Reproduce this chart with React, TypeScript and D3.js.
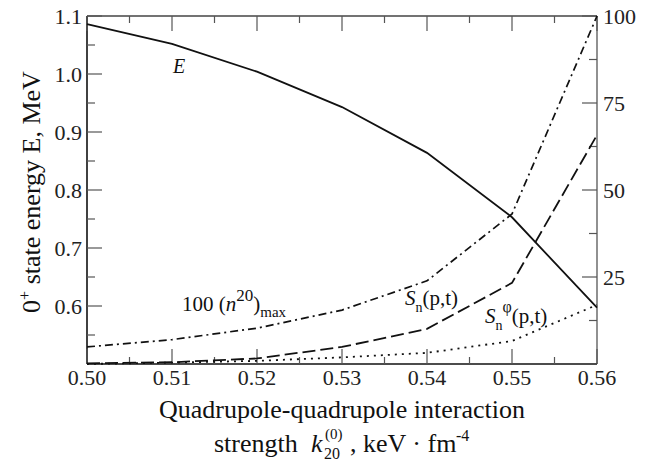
import React from "react";
import * as d3 from "d3";

// coupling strength k20 (keV fm^-4)
const strengths = [0.5, 0.51, 0.52, 0.53, 0.54, 0.55, 0.56];
// 0+ state energy, MeV (left axis)
const energy = [1.086, 1.052, 1.004, 0.943, 0.864, 0.753, 0.597];
// right axis series
const n20max = [4.9, 7.0, 10.3, 15.5, 23.9, 43.1, 100];
const snPt = [0.2, 0.5, 1.6, 4.9, 10.1, 23.3, 65.8];
const snPhiPt = [0.0, 0.4, 0.9, 1.9, 3.2, 6.6, 17];

const xTicks = [0.5, 0.51, 0.52, 0.53, 0.54, 0.55, 0.56];
const leftTicks = [0.6, 0.7, 0.8, 0.9, 1.0, 1.1];
const rightTicks = [25, 50, 75, 100];

const W = 651;
const H = 464;
const serif = "Liberation Serif, Tinos, DejaVu Serif, serif";

export default function App() {
  const x = d3.scaleLinear().domain([0.5, 0.56]).range([87, 597]);
  const yL = d3.scaleLinear().domain([0.5, 1.1]).range([364, 16]);
  const yR = d3.scaleLinear().domain([0, 100]).range([364, 16]);

  const lineL = d3.line<number>().x((_, i) => x(strengths[i])).y(d => yL(d));
  const lineR = d3.line<number>().x((_, i) => x(strengths[i])).y(d => yR(d));

  const xMinor = d3.range(0.505, 0.56, 0.01);
  const lMinor = d3.range(0.55, 1.1, 0.1);
  const rMinor = d3.range(12.5, 100, 25);

  const [x0, x1] = x.range();
  const [yB, yT] = yL.range();
  const tickCol = "#555";
  const tf = { fontFamily: serif };

  return (
    <svg width={W} height={H} style={{ position: "absolute", left: 0, top: 0, background: "#fff" }}>
      {/* frame */}
      <line x1={x0} x2={x1} y1={yT} y2={yT} stroke="#444" strokeWidth={1.3} />
      <line x1={x1} x2={x1} y1={yT} y2={yB} stroke="#555" strokeWidth={1.3} />
      <line x1={x0} x2={x1} y1={yB} y2={yB} stroke="#111" strokeWidth={1.6} />
      <line x1={x0} x2={x0} y1={yT} y2={yB} stroke="#111" strokeWidth={1.6} />

      {/* x ticks bottom and top */}
      {xTicks.map(t => (
        <g key={"xt" + t}>
          <line x1={x(t)} x2={x(t)} y1={yB} y2={yB - 15} stroke={tickCol} strokeWidth={1.2} />
          <line x1={x(t)} x2={x(t)} y1={yT} y2={yT + 15} stroke={tickCol} strokeWidth={1.2} />
          <text style={tf} x={x(t)} y={385} fontSize={22} textAnchor="middle" fill="#222">{t.toFixed(2)}</text>
        </g>
      ))}
      {xMinor.map(t => (
        <g key={"xm" + t}>
          <line x1={x(t)} x2={x(t)} y1={yB} y2={yB - 7} stroke={tickCol} strokeWidth={1.2} />
          <line x1={x(t)} x2={x(t)} y1={yT} y2={yT + 7} stroke={tickCol} strokeWidth={1.2} />
        </g>
      ))}

      {/* left axis */}
      {leftTicks.map(t => (
        <g key={"lt" + t}>
          <line x1={x0} x2={x0 + 15} y1={yL(t)} y2={yL(t)} stroke={tickCol} strokeWidth={1.2} />
          <text style={tf} x={82} y={yL(t)} dy="0.35em" fontSize={22} textAnchor="end" fill="#222">{t.toFixed(1)}</text>
        </g>
      ))}
      {lMinor.map(t => (
        <line key={"lm" + t} x1={x0} x2={x0 + 8} y1={yL(t)} y2={yL(t)} stroke={tickCol} strokeWidth={1.2} />
      ))}

      {/* right axis */}
      {rightTicks.map(t => (
        <g key={"rt" + t}>
          <line x1={x1} x2={x1 - 15} y1={yR(t)} y2={yR(t)} stroke={tickCol} strokeWidth={1.2} />
          <text style={tf} x={603} y={yR(t)} dy="0.35em" fontSize={22} textAnchor="start" fill="#222">{t}</text>
        </g>
      ))}
      {rMinor.map(t => (
        <line key={"rm" + t} x1={x1} x2={x1 - 8} y1={yR(t)} y2={yR(t)} stroke={tickCol} strokeWidth={1.2} />
      ))}

      {/* curves */}
      <path d={lineR(snPhiPt) || ""} fill="none" stroke="#111" strokeWidth={1.8} strokeDasharray="2,5" />
      <path d={lineR(snPt) || ""} fill="none" stroke="#111" strokeWidth={1.8} strokeDasharray="13,5" />
      <path d={lineR(n20max) || ""} fill="none" stroke="#111" strokeWidth={1.7} strokeDasharray="8,4,2,4" />
      <path d={lineL(energy) || ""} fill="none" stroke="#111" strokeWidth={1.8} />

      {/* curve labels */}
      <text style={tf} x={173} y={73} fontSize={20} fontStyle="italic" fill="#111">E</text>
      <text style={tf} x={182} y={311} fontSize={21} fill="#111">
        100 (<tspan fontStyle="italic">n</tspan>
        <tspan fontSize={17} dy={-10}>20</tspan>
        <tspan dy={10}>)</tspan>
        <tspan fontSize={15} dy={6}>max</tspan>
      </text>
      <text style={tf} x={405} y={305} fontSize={21} fill="#111">
        <tspan fontStyle="italic">S</tspan>
        <tspan fontSize={14} dy={7}>n</tspan>
        <tspan dy={-7}>(p,t)</tspan>
      </text>
      <text style={tf} x={485} y={323} fontSize={21} fill="#111">
        <tspan fontStyle="italic">S</tspan>
        <tspan fontSize={14} dy={7}>n</tspan>
        <tspan fontSize={16} dy={-18}>φ</tspan>
        <tspan dy={11}>(p,t)</tspan>
      </text>

      {/* axis titles */}
      <text style={tf} transform={`translate(40,192) rotate(-90)`} fontSize={26} textAnchor="middle" fill="#111">
        0<tspan fontSize={16} dy={-10}>+</tspan>
        <tspan dy={10}> state energy E, MeV</tspan>
      </text>
      <text style={tf} x={(x0 + x1) / 2} y={418} fontSize={26} textAnchor="middle" fill="#111">
        Quadrupole-quadrupole interaction
      </text>
      <text style={tf} x={214} y={452} fontSize={26} fill="#111">strength</text>
      <text style={tf} x={311} y={452} fontSize={26} fontStyle="italic" fill="#111">k</text>
      <text style={tf} x={324} y={459} fontSize={16} fill="#111">20</text>
      <text style={tf} x={325} y={439} fontSize={15} fill="#111">(0)</text>
      <text style={tf} x={350} y={452} fontSize={26} fill="#111">, keV · fm</text>
      <text style={tf} x={456} y={441} fontSize={16} fill="#111">-4</text>
    </svg>
  );
}
